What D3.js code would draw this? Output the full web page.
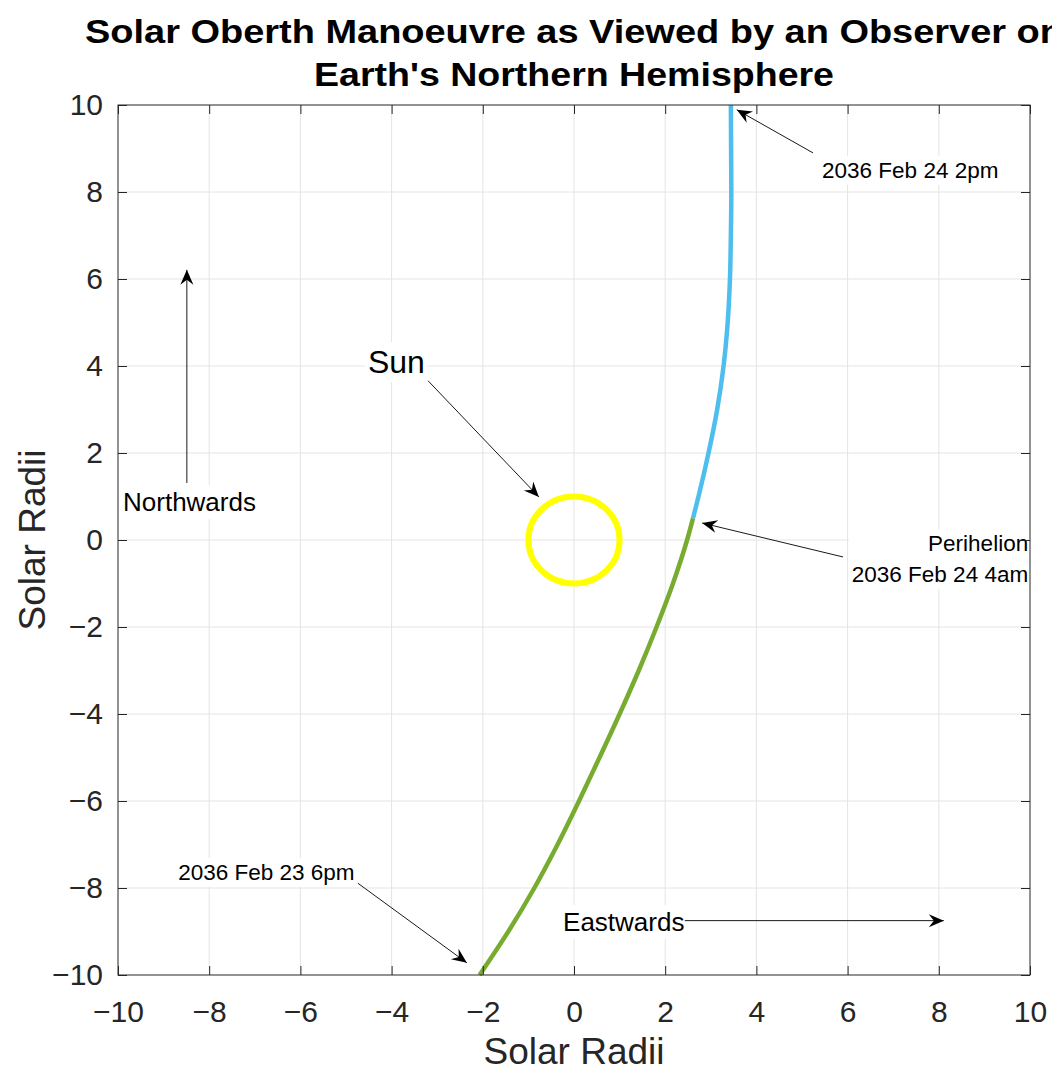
<!DOCTYPE html>
<html>
<head>
<meta charset="utf-8">
<script src="https://cdn.jsdelivr.net/npm/d3@7"></script>
<style>
  html, body { margin: 0; padding: 0; background: #fff; }
  svg { display: block; font-family: "Liberation Sans", Arial, sans-serif; }
</style>
</head>
<body>
<svg id="chart" width="1052" height="1071"></svg>
<script>
// ── Data (solar radii) ──────────────────────────────────────────────────────
const xTicks = [-10, -8, -6, -4, -2, 0, 2, 4, 6, 8, 10];
const yTicks = [-10, -8, -6, -4, -2, 0, 2, 4, 6, 8, 10];

// inbound leg: 2036 Feb 23 6pm -> perihelion
const inboundX = [-2.07, -1.44, -0.87, -0.36, 0.11, 0.56, 1.00, 1.42, 1.81, 2.17, 2.48, 2.61];
const inboundY = [-10, -9, -8, -7, -6, -5, -4, -3, -2, -1, 0, 0.5];

// outbound leg: perihelion -> 2036 Feb 24 2pm
const outboundX = [2.61, 2.73, 2.95, 3.14, 3.28, 3.37, 3.42, 3.44, 3.45, 3.445, 3.44];
const outboundY = [0.5, 1, 2, 3, 4, 5, 6, 7, 8, 9, 10];

const sunRadius = 1;

// annotations: text anchor + arrow tail -> tip, all in data units
const notes = [
  { lines: ['2036 Feb 24 2pm'], tx: 5.44, ty: 8.51, anchor: 'start', size: 22.5,
    from: [5.24, 8.90], to: [3.57, 9.89] },
  { lines: ['Perihelion', '2036 Feb 24 4am'], tx: 9.96, ty: -0.43, anchor: 'end', size: 22.5,
    from: [5.90, -0.39], to: [2.81, 0.39] },
  { lines: ['2036 Feb 23 6pm'], tx: -8.68, ty: -7.63, anchor: 'start', size: 22.5,
    from: [-4.74, -7.89], to: [-2.35, -9.72] },
  { lines: ['Eastwards'], tx: -0.24, ty: -8.78, anchor: 'start', size: 26,
    from: [2.43, -8.75], to: [8.11, -8.75] },
  { lines: ['Northwards'], tx: -9.89, ty: 0.87, anchor: 'start', size: 26,
    from: [-8.49, 1.31], to: [-8.49, 6.21] },
  { lines: ['Sun'], tx: -4.52, ty: 4.09, anchor: 'start', size: 32,
    from: [-3.20, 3.66], to: [-0.77, 0.99] },
];

// ── Layout ──────────────────────────────────────────────────────────────────
const W = 1052, H = 1071;
const margin = { top: 105, right: 22, bottom: 96, left: 118 };
const svg = d3.select('#chart');
svg.append('rect').attr('width', W).attr('height', H).attr('fill', '#fff');

const x = d3.scaleLinear().domain([-10, 10]).range([margin.left, W - margin.right]);
const y = d3.scaleLinear().domain([-10, 10]).range([H - margin.bottom, margin.top]);

const AXIS = '#262626';

// ── Grid ────────────────────────────────────────────────────────────────────
const grid = svg.append('g').attr('stroke', '#e4e4e4').attr('stroke-width', 1);
grid.selectAll('line.gx').data(xTicks.slice(1, -1)).join('line')
  .attr('x1', d => x(d)).attr('x2', d => x(d))
  .attr('y1', y(10)).attr('y2', y(-10));
grid.selectAll('line.gy').data(yTicks.slice(1, -1)).join('line')
  .attr('y1', d => y(d)).attr('y2', d => y(d))
  .attr('x1', x(-10)).attr('x2', x(10));

// ── Text boxes (white background hides grid) ────────────────────────────────
const noteG = svg.append('g');
notes.forEach(n => {
  const g = noteG.append('g');
  const lh = n.size * 1.36;
  const t = g.append('text')
    .attr('x', x(n.tx))
    .attr('y', y(n.ty))
    .attr('text-anchor', n.anchor)
    .attr('font-size', n.size)
    .attr('fill', '#000');
  n.lines.forEach((s, i) => {
    t.append('tspan').attr('x', x(n.tx))
      .attr('dy', i === 0 ? (0.35 - (n.lines.length - 1) * lh / n.size / 2) + 'em' : lh)
      .text(s);
  });
  const bb = t.node().getBBox();
  g.insert('rect', 'text')
    .attr('x', bb.x - 3).attr('y', bb.y - 2)
    .attr('width', bb.width + 6).attr('height', bb.height + 4)
    .attr('fill', '#fff');
});

// ── Sun ─────────────────────────────────────────────────────────────────────
svg.append('ellipse')
  .attr('cx', x(0)).attr('cy', y(0))
  .attr('rx', x(sunRadius) - x(0))
  .attr('ry', y(0) - y(sunRadius))
  .attr('fill', 'none')
  .attr('stroke', '#ffff00')
  .attr('stroke-width', 6);

// ── Trajectory ──────────────────────────────────────────────────────────────
const line = d3.line().x(d => x(d[0])).y(d => y(d[1])).curve(d3.curveMonotoneY);
svg.append('path')
  .attr('d', line(d3.zip(inboundX, inboundY)))
  .attr('fill', 'none').attr('stroke', '#77ac30').attr('stroke-width', 4.5);
svg.append('path')
  .attr('d', line(d3.zip(outboundX, outboundY)))
  .attr('fill', 'none').attr('stroke', '#4dbeee').attr('stroke-width', 4.5);

// ── Arrows ──────────────────────────────────────────────────────────────────
svg.append('defs').append('marker')
  .attr('id', 'head')
  .attr('viewBox', '-16 -8 18 16')
  .attr('refX', 0).attr('refY', 0)
  .attr('markerWidth', 18).attr('markerHeight', 16)
  .attr('markerUnits', 'userSpaceOnUse')
  .attr('orient', 'auto')
  .append('path')
    .attr('d', 'M0,0 L-15,-6.5 L-10,0 L-15,6.5 Z')
    .attr('fill', '#000');

svg.append('g').selectAll('line').data(notes).join('line')
  .attr('x1', d => x(d.from[0])).attr('y1', d => y(d.from[1]))
  .attr('x2', d => x(d.to[0])).attr('y2', d => y(d.to[1]))
  .attr('stroke', '#1a1a1a').attr('stroke-width', 1)
  .attr('marker-end', 'url(#head)');

// ── Axes (box, inward ticks) ────────────────────────────────────────────────
const fmt = d => d < 0 ? '\u2212' + Math.abs(d) : String(d);
const styleAxis = g => {
  g.select('.domain').remove();
  g.selectAll('line').attr('stroke', AXIS);
  g.selectAll('text').attr('fill', AXIS).attr('font-size', 30)
    .attr('font-family', '"Liberation Sans", Arial, sans-serif');
};

svg.append('g').attr('transform', `translate(0,${y(-10)})`)
  .call(d3.axisBottom(x).tickValues(xTicks).tickFormat(fmt).tickSizeInner(-9).tickSizeOuter(0).tickPadding(26))
  .call(styleAxis);
svg.append('g').attr('transform', `translate(0,${y(10)})`)
  .call(d3.axisTop(x).tickValues(xTicks).tickFormat('').tickSizeInner(-9).tickSizeOuter(0))
  .call(styleAxis);
svg.append('g').attr('transform', `translate(${x(-10)},0)`)
  .call(d3.axisLeft(y).tickValues(yTicks).tickFormat(fmt).tickSizeInner(-9).tickSizeOuter(0).tickPadding(15))
  .call(styleAxis);
svg.append('g').attr('transform', `translate(${x(10)},0)`)
  .call(d3.axisRight(y).tickValues(yTicks).tickFormat('').tickSizeInner(-9).tickSizeOuter(0))
  .call(styleAxis);

svg.append('rect')
  .attr('x', x(-10)).attr('y', y(10))
  .attr('width', x(10) - x(-10)).attr('height', y(-10) - y(10))
  .attr('fill', 'none').attr('stroke', AXIS).attr('stroke-width', 1);

// ── Labels ──────────────────────────────────────────────────────────────────
svg.append('text')
  .attr('x', (x(-10) + x(10)) / 2).attr('y', 1064)
  .attr('text-anchor', 'middle').attr('font-size', 37).attr('fill', AXIS)
  .text('Solar Radii');
svg.append('text')
  .attr('transform', `translate(45,${(y(-10) + y(10)) / 2}) rotate(-90)`)
  .attr('text-anchor', 'middle').attr('font-size', 37).attr('fill', AXIS)
  .text('Solar Radii');

// ── Title ───────────────────────────────────────────────────────────────────
const cx = (x(-10) + x(10)) / 2;
svg.append('text')
  .attr('x', cx).attr('y', 43)
  .attr('text-anchor', 'middle').attr('font-size', 33).attr('font-weight', 'bold')
  .attr('textLength', 978).attr('lengthAdjust', 'spacingAndGlyphs')
  .text('Solar Oberth Manoeuvre as Viewed by an Observer on');
svg.append('text')
  .attr('x', cx).attr('y', 86)
  .attr('text-anchor', 'middle').attr('font-size', 33).attr('font-weight', 'bold')
  .attr('textLength', 520).attr('lengthAdjust', 'spacingAndGlyphs')
  .text("Earth's Northern Hemisphere");
</script>
</body>
</html>
